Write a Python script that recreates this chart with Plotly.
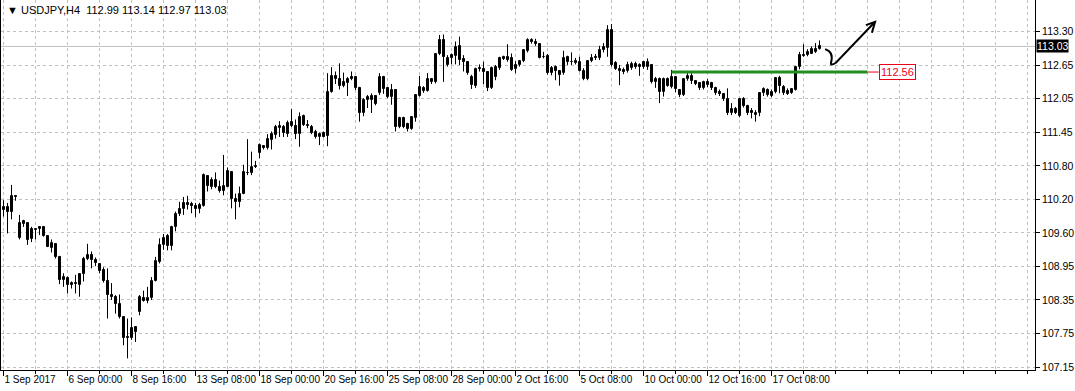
import numpy as np
import plotly.graph_objects as go

symbol = "USDJPY,H4"

opens = [
    110.03, 110.09, 109.99, 110.29, 109.51, 109.77, 109.79, 109.50, 109.66, 109.68,
    109.71, 109.55, 109.33, 109.40, 109.17, 108.75, 108.79, 108.65, 108.69, 108.65,
    108.85, 109.14, 109.21, 109.12, 109.04, 108.93, 108.72, 108.47, 108.44, 108.31,
    108.06, 107.70, 107.68, 107.88, 108.16, 108.42, 108.37, 108.41, 108.73, 109.07,
    109.38, 109.55, 109.37, 109.71, 109.95, 110.04, 110.16, 110.14, 110.11, 110.04,
    110.11, 110.65, 110.46, 110.58, 110.46, 110.38, 110.46, 110.73, 110.23, 110.18,
    110.33, 110.70, 110.70, 110.83, 111.07, 111.20, 111.16, 111.31, 111.41, 111.53,
    111.56, 111.43, 111.65, 111.57, 111.42, 111.76, 111.58, 111.55, 111.46, 111.36,
    111.44, 111.39, 112.20, 112.49, 112.43, 112.31, 112.36, 112.47, 112.47, 112.27,
    111.81, 112.04, 112.04, 112.12, 112.17, 112.47, 112.26, 112.11, 112.23, 111.56,
    111.72, 111.60, 111.52, 111.71, 112.12, 112.26, 112.22, 112.43, 112.38, 112.90,
    113.15, 112.69, 112.82, 112.86, 113.04, 112.79, 112.75, 112.46, 112.30, 112.64,
    112.62, 112.56, 112.27, 112.66, 112.64, 112.84, 112.83, 112.81, 112.61, 112.68,
    112.76, 112.95, 113.15, 113.12, 113.07, 112.83, 112.85, 112.54, 112.65, 112.57,
    112.54, 112.83, 112.75, 112.77, 112.74, 112.58, 112.43, 112.76, 112.84, 112.81,
    112.96, 113.01, 113.33, 112.72, 112.57, 112.60, 112.57, 112.64, 112.70, 112.69,
    112.65, 112.65, 112.68, 112.38, 112.44, 112.20, 112.44, 112.29, 112.47, 112.23,
    112.14, 112.43, 112.49, 112.40, 112.35, 112.26, 112.37, 112.35, 112.26, 112.20,
    112.16, 112.06, 111.80, 111.88, 111.76, 112.06, 111.94, 111.85, 111.77, 111.80,
    112.17, 112.23, 112.12, 112.20, 112.45, 112.29, 112.22, 112.17, 112.23, 112.65,
    112.88, 112.87, 112.90, 112.93, 112.99,
]

highs = [
    110.21, 110.16, 110.49, 110.30, 109.94, 109.85, 109.80, 109.72, 109.70, 109.72,
    109.72, 109.57, 109.49, 109.42, 109.19, 108.87, 108.81, 108.72, 108.84, 108.86,
    109.17, 109.41, 109.27, 109.16, 109.06, 108.98, 108.96, 108.69, 108.47, 108.48,
    108.07, 108.04, 108.06, 107.89, 108.47, 108.55, 108.62, 108.80, 109.17, 109.51,
    109.59, 109.59, 109.74, 110.00, 110.18, 110.27, 110.29, 110.18, 110.16, 110.16,
    110.70, 110.67, 110.63, 110.72, 110.57, 111.04, 110.81, 110.74, 110.33, 110.46,
    110.86, 111.33, 111.10, 110.93, 111.25, 111.22, 111.42, 111.47, 111.59, 111.66,
    111.59, 111.67, 111.88, 111.69, 111.82, 111.78, 111.68, 111.59, 111.50, 111.45,
    111.47, 112.54, 112.65, 112.57, 112.72, 112.55, 112.47, 112.57, 112.49, 112.29,
    112.08, 112.14, 112.17, 112.14, 112.54, 112.49, 112.28, 112.34, 112.24, 111.74,
    111.74, 111.63, 111.75, 112.15, 112.49, 112.30, 112.54, 112.45, 112.91, 113.24,
    113.25, 112.87, 112.90, 113.12, 113.21, 112.87, 112.76, 112.51, 112.64, 112.70,
    112.75, 112.57, 112.66, 112.69, 112.84, 112.86, 113.07, 112.90, 112.76, 112.78,
    112.98, 113.18, 113.18, 113.17, 113.09, 112.93, 112.89, 112.67, 112.68, 112.58,
    112.95, 112.86, 112.92, 112.82, 112.84, 112.63, 112.78, 112.89, 112.89, 113.04,
    113.09, 113.42, 113.44, 112.76, 112.69, 112.64, 112.75, 112.75, 112.75, 112.72,
    112.76, 112.81, 112.69, 112.47, 112.46, 112.46, 112.46, 112.60, 112.48, 112.24,
    112.45, 112.55, 112.54, 112.41, 112.37, 112.40, 112.43, 112.38, 112.29, 112.24,
    112.17, 112.26, 111.99, 111.92, 112.08, 112.10, 111.96, 111.90, 111.86, 112.18,
    112.28, 112.26, 112.24, 112.47, 112.49, 112.32, 112.26, 112.26, 112.66, 112.93,
    113.07, 112.98, 113.03, 113.09, 113.14,
]

lows = [
    109.91, 109.60, 109.86, 110.20, 109.49, 109.72, 109.39, 109.44, 109.49, 109.57,
    109.54, 109.35, 109.25, 109.14, 108.67, 108.62, 108.50, 108.59, 108.50, 108.44,
    108.72, 109.11, 108.96, 109.00, 108.87, 108.70, 108.04, 108.38, 108.13, 108.04,
    107.55, 107.31, 107.65, 107.61, 108.10, 108.35, 108.32, 108.38, 108.72, 109.05,
    109.30, 109.29, 109.29, 109.64, 109.92, 109.94, 110.04, 109.97, 109.90, 109.97,
    110.09, 110.37, 110.41, 110.43, 110.35, 110.30, 110.45, 110.06, 109.86, 110.08,
    110.32, 110.67, 110.67, 110.80, 110.98, 111.14, 111.14, 111.14, 111.34, 111.37,
    111.37, 111.37, 111.55, 111.33, 111.19, 111.57, 111.53, 111.42, 111.34, 111.22,
    111.36, 111.20, 112.18, 112.34, 112.24, 112.28, 112.12, 112.41, 112.23, 111.65,
    111.75, 111.90, 111.81, 111.95, 112.14, 112.16, 112.08, 111.96, 111.47, 111.53,
    111.53, 111.47, 111.50, 111.65, 112.11, 112.18, 112.20, 112.34, 112.35, 112.87,
    112.38, 112.66, 112.70, 112.70, 112.69, 112.57, 112.51, 112.25, 112.27, 112.57,
    112.34, 112.21, 112.25, 112.41, 112.60, 112.78, 112.75, 112.58, 112.54, 112.66,
    112.74, 112.92, 113.08, 113.04, 112.81, 112.81, 112.51, 112.50, 112.41, 112.31,
    112.51, 112.69, 112.69, 112.70, 112.57, 112.41, 112.41, 112.74, 112.78, 112.78,
    112.92, 112.84, 112.66, 112.60, 112.32, 112.52, 112.55, 112.60, 112.62, 112.49,
    112.62, 112.60, 112.35, 112.27, 111.99, 112.11, 112.29, 112.26, 112.19, 112.10,
    112.12, 112.40, 112.34, 112.32, 112.23, 112.24, 112.28, 112.23, 112.14, 112.12,
    112.03, 111.77, 111.77, 111.79, 111.73, 111.91, 111.77, 111.71, 111.65, 111.75,
    112.12, 112.11, 112.10, 112.17, 112.17, 112.14, 112.14, 112.16, 112.22, 112.61,
    112.84, 112.85, 112.89, 112.91, 112.97,
]

closes = [
    110.09, 109.99, 110.29, 110.27, 109.79, 109.82, 109.48, 109.68, 109.69, 109.71,
    109.55, 109.36, 109.43, 109.17, 108.75, 108.80, 108.65, 108.69, 108.68, 108.85,
    109.14, 109.20, 109.11, 109.05, 108.92, 108.72, 108.47, 108.43, 108.31, 108.06,
    107.69, 107.68, 107.86, 107.80, 108.43, 108.37, 108.41, 108.73, 109.09, 109.39,
    109.52, 109.37, 109.72, 109.96, 110.05, 110.16, 110.13, 110.11, 110.04, 110.12,
    110.67, 110.47, 110.58, 110.46, 110.38, 110.47, 110.74, 110.23, 110.18, 110.33,
    110.72, 110.71, 110.81, 110.81, 111.22, 111.16, 111.33, 111.42, 111.55, 111.57,
    111.44, 111.63, 111.57, 111.42, 111.74, 111.59, 111.57, 111.45, 111.36, 111.42,
    111.37, 112.20, 112.49, 112.44, 112.30, 112.37, 112.43, 112.44, 112.26, 111.80,
    112.05, 112.11, 112.12, 111.97, 112.46, 112.24, 112.11, 112.23, 111.56, 111.72,
    111.56, 111.51, 111.73, 112.14, 112.28, 112.22, 112.43, 112.37, 112.90, 113.15,
    112.84, 112.82, 112.87, 113.02, 112.78, 112.75, 112.54, 112.32, 112.61, 112.61,
    112.56, 112.27, 112.63, 112.46, 112.82, 112.80, 112.78, 112.60, 112.69, 112.76,
    112.96, 113.15, 113.11, 113.07, 112.82, 112.84, 112.54, 112.64, 112.57, 112.51,
    112.81, 112.74, 112.74, 112.73, 112.58, 112.43, 112.76, 112.82, 112.81, 112.96,
    113.02, 113.33, 112.69, 112.62, 112.62, 112.56, 112.68, 112.70, 112.65, 112.65,
    112.74, 112.75, 112.38, 112.43, 112.19, 112.43, 112.31, 112.47, 112.24, 112.14,
    112.43, 112.49, 112.40, 112.34, 112.26, 112.38, 112.32, 112.26, 112.18, 112.16,
    112.06, 111.80, 111.88, 111.81, 112.06, 111.94, 111.81, 111.80, 111.81, 112.17,
    112.24, 112.14, 112.20, 112.45, 112.30, 112.18, 112.16, 112.24, 112.65, 112.87,
    112.85, 112.93, 112.99, 112.99, 113.03,
]

x_tick_bars = [0, 16, 32, 48, 64, 80, 96, 112, 128, 144, 160, 176, 192]
x_tick_labels = ["1 Sep 2017", "6 Sep 00:00", "8 Sep 16:00", "13 Sep 08:00", "18 Sep 00:00",
                 "20 Sep 16:00", "25 Sep 08:00", "28 Sep 00:00", "2 Oct 16:00", "5 Oct 08:00",
                 "10 Oct 00:00", "12 Oct 16:00", "17 Oct 08:00"]
y_tick_labels = ["107.15", "107.75", "108.35", "108.95", "109.60", "110.20",
                 "110.80", "111.45", "112.05", "112.65", "113.30"]
level_price = 112.56

o = np.array(opens)
h = np.array(highs)
l = np.array(lows)
c = np.array(closes)
n = len(o)
idx = np.arange(n)
up = c >= o
body_base = np.minimum(o, c)
body_h = np.maximum(np.abs(c - o), 0.012)

wx, wy = [], []
for i in range(n):
    wx += [i, i, None]
    wy += [l[i], h[i], None]

FONT = "Liberation Sans, Arial, sans-serif"
FS = 11
FSX = 10
GRID = "#c0c0c0"

fig = go.Figure()
fig.add_trace(go.Scatter(x=wx, y=wy, mode="lines", line=dict(color="black", width=1),
                         hoverinfo="skip", showlegend=False))
fig.add_trace(go.Bar(x=idx, y=body_h, base=body_base, width=0.5,
                     marker=dict(color=["white" if u else "black" for u in up],
                                 line=dict(color="black", width=1)),
                     showlegend=False, hoverinfo="skip"))

ytick_pos = np.linspace(float(y_tick_labels[0]), float(y_tick_labels[-1]), len(y_tick_labels))

fig.update_layout(
    width=1075, height=391,
    margin=dict(l=1, r=40, t=0, b=21, autoexpand=False),
    paper_bgcolor="white", plot_bgcolor="white",
    showlegend=False, barmode="overlay", bargap=0,
    font=dict(family=FONT, size=FS, color="black"),
)
fig.update_xaxes(
    range=[-0.625, 257.875], tickmode="array", tickvals=x_tick_bars, ticktext=x_tick_labels,
    ticks="outside", ticklen=5, tickcolor="black", tickwidth=1, tickangle=0,
    ticklabelposition="outside right", automargin=False,
    showline=True, linecolor="black", linewidth=1, mirror=True,
    showgrid=True, gridcolor=GRID, gridwidth=1, griddash="3px,3px", zeroline=False,
    minor=dict(tickmode="linear", tick0=0, dtick=8, ticks="outside", ticklen=3,
               tickcolor="black", showgrid=True, gridcolor=GRID, griddash="3px,3px"),
    tickfont=dict(family=FONT, size=FSX, color="black"),
)
fig.update_yaxes(
    side="right", range=[107.096, 113.881], tickmode="array", tickvals=ytick_pos,
    ticktext=y_tick_labels, ticks="outside", ticklen=4, tickcolor="black", automargin=False,
    showline=True, linecolor="black", linewidth=1, mirror=True,
    showgrid=True, gridcolor=GRID, gridwidth=1, griddash="3px,3px", zeroline=False,
    tickfont=dict(family=FONT, size=FSX + 0.5, color="black"),
)

last_c = closes[-1]
# bid line
fig.add_shape(type="line", xref="paper", x0=0, x1=1, yref="y", y0=last_c, y1=last_c,
              line=dict(color=GRID, width=1), layer="below")
# green level line
fig.add_shape(type="line", xref="x", x0=167, x1=216, yref="y", y0=level_price, y1=level_price,
              line=dict(color="#1f8f1f", width=3))
fig.add_shape(type="line", xref="x", x0=216, x1=218.8, yref="y", y0=level_price, y1=level_price,
              line=dict(color="#e8001c", width=1))
fig.add_annotation(x=218.8, y=level_price, xref="x", yref="y", xanchor="left", yanchor="middle",
                   text=f"{level_price:.2f}", showarrow=False, bgcolor="white",
                   bordercolor="#e8001c", borderwidth=1, borderpad=1,
                   font=dict(family=FONT, size=FS, color="#e8001c"))
# hand-drawn arrow
fig.add_shape(type="path", xref="x", yref="y",
              path="M 205.4,112.98 Q 207.6,112.93 206.9,112.74 Q 206.6,112.66 208.1,112.73 L 217.6,113.46",
              line=dict(color="black", width=2))
fig.add_shape(type="path", xref="x", yref="y",
              path="M 215.6,113.42 L 217.9,113.48 L 217.1,113.28",
              line=dict(color="black", width=2))
# price box
fig.add_annotation(x=1, y=last_c, xref="paper", yref="y", xanchor="left", yanchor="middle",
                   xshift=1, text=f"{last_c:.2f}", showarrow=False, bgcolor="black",
                   borderpad=0, font=dict(family=FONT, size=FSX + 0.5, color="white"))
# title
fig.add_annotation(x=0, y=1, xref="paper", yref="paper", xanchor="left", yanchor="top",
                   xshift=4, yshift=-2, showarrow=False,
                   text=f"\u25bc {symbol}  {opens[-1]:.2f} {highs[-1]:.2f} {lows[-1]:.2f} {closes[-1]:.2f}",
                   font=dict(family=FONT, size=FS, color="black"))

fig.write_html("out.html")
